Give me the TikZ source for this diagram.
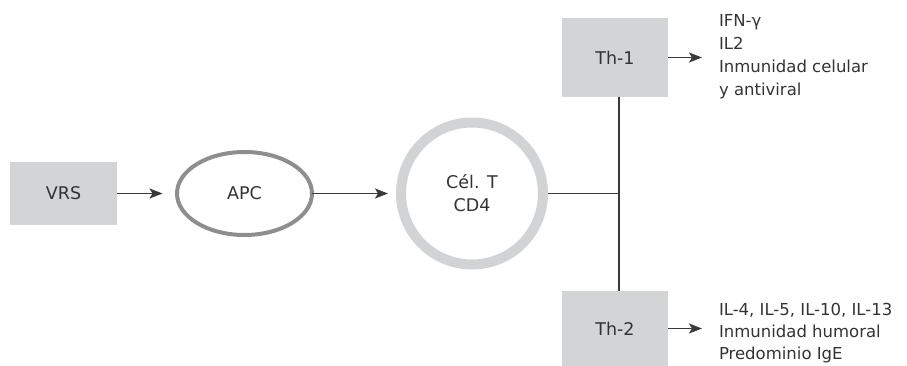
\documentclass[tikz,border=0pt]{standalone}
\usepackage{fontspec}
\setmainfont{DejaVu Sans}
\usetikzlibrary{shapes.geometric,arrows.meta}
\definecolor{boxgray}{HTML}{D3D4D6}
\definecolor{ringgray}{HTML}{D2D3D5}
\definecolor{ellgray}{HTML}{8E8E8E}
\definecolor{ink}{HTML}{333333}
\definecolor{linec}{HTML}{3A3A3A}
\begin{document}
\begin{tikzpicture}[x=1pt,y=-1pt,
  graybox/.style={fill=boxgray,draw=none,inner sep=0,outer sep=0,text=ink,font=\fontsize{17.5}{21}\selectfont},
  conn/.style={draw=linec,line width=1.7pt},
  arr/.style={conn,-{Stealth[length=13pt,width=10pt,inset=3pt]}},
  side/.style={anchor=base west,inner sep=0,outer sep=0,text=ink,font=\fontsize{16.5}{20}\selectfont}]
\useasboundingbox (0,0) rectangle (907,366);
% boxes
\node[graybox,minimum width=107pt,minimum height=63pt] (vrs) at (63.5,193.5) {VRS};
\node[ellipse,draw=ellgray,line width=4pt,inner sep=0,outer sep=0,minimum width=135pt,minimum height=83pt,text=ink,font=\fontsize{17.5}{21}\selectfont] (apc) at (244.5,193.5) {APC};
\node[circle,draw=ringgray,line width=10pt,inner sep=0,outer sep=0,minimum size=142pt,text=ink,align=center,font=\fontsize{17.5}{23}\selectfont] (cel) at (472,193.5) {Cél. T\\CD4};
\node[graybox,minimum width=106pt,minimum height=79pt] (th1) at (615,57.5) {Th-1};
\node[graybox,minimum width=106pt,minimum height=75pt] (th2) at (615,328.5) {Th-2};
\coordinate (j) at (619,193.5);
% connectors
\draw[arr,shorten >=14.5pt] (vrs.east) -- (apc.west);
\draw[arr,shorten >=13pt] (apc.east) -- (cel.west);
\draw[conn,shorten <=5pt] (cel.east) -- (j);
\draw[conn] (th1.south -| j) -- (th2.north -| j);
% side texts
\node[side] (a1) at (719,27) {IFN-γ};
\node[side] (a2) at (719,50) {IL2};
\node[side] (a3) at (719,73) {Inmunidad celular};
\node[side] (a4) at (719,96) {y antiviral};
\node[side] (b1) at (719,315) {IL-4, IL-5, IL-10, IL-13};
\node[side] (b2) at (719,337) {Inmunidad humoral};
\node[side] (b3) at (719,359) {Predominio IgE};
\draw[arr,shorten >=17pt] (th1.east) -- (th1.east -| a3.west);
\draw[arr,shorten >=17pt] (th2.east) -- (th2.east -| b2.west);
\end{tikzpicture}
\end{document}
